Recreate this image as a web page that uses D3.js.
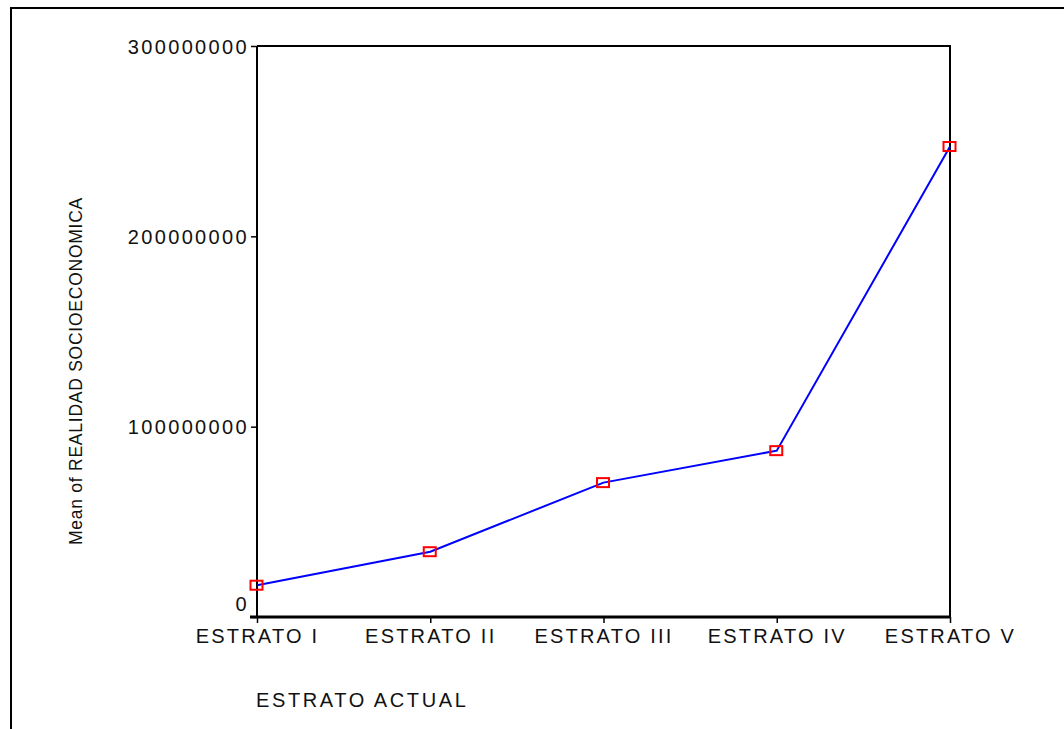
<!DOCTYPE html>
<html><head><meta charset="utf-8">
<script src="https://cdn.jsdelivr.net/npm/d3@7"></script>
<style>
html,body{margin:0;padding:0;background:#fff;}
svg{display:block;}
text{font-family:"Liberation Sans",Arial,sans-serif;fill:#111;}
</style></head>
<body>
<script>
const categories = ["ESTRATO I","ESTRATO II","ESTRATO III","ESTRATO IV","ESTRATO V"];
const meanValues = [16700000, 34300000, 70600000, 87400000, 247200000];
const yTicks = [0, 100000000, 200000000, 300000000];
const xTitle = "ESTRATO ACTUAL";
const yTitle = "Mean of REALIDAD SOCIOECONOMICA";

(function(){
const W = 1064, H = 729;
const pL = 257, pR = 950, pT = 46, pB = 617;

const svg = d3.select("body").append("svg").attr("width", W).attr("height", H);

// outer border (left and top visible)
svg.append("path").attr("d", `M11,${H} L11,8 L${W},8`)
  .attr("fill","none").attr("stroke","#000").attr("stroke-width",2);

const x = d3.scalePoint().domain(categories).range([pL, pR]);
const y = d3.scaleLinear().domain([0, 300000000]).range([pB, pT]);

// frame top and right
svg.append("path").attr("d", `M${pL},${pT} L${pR},${pT} L${pR},${pB}`)
  .attr("fill","none").attr("stroke","#000").attr("stroke-width",2);

// y axis
const yAxis = d3.axisLeft(y).tickValues(yTicks).tickSize(6).tickFormat(d3.format("d"));
const gy = svg.append("g").attr("transform", `translate(${pL},0)`).call(yAxis);
gy.select(".domain").attr("stroke","#000").attr("stroke-width",2).attr("d", `M0,${pB}V${pT}`);
gy.selectAll(".tick line").attr("stroke","#000").attr("stroke-width",1.5);
gy.selectAll(".tick text")
  .attr("x", -8).attr("dy", d => d === 0 ? "-0.35em" : "0.35em")
  .style("font-size","20px").style("letter-spacing","2.35px")
  .attr("fill","#111").attr("font-family",null);

// x axis
const xAxis = d3.axisBottom(x).tickSize(6).tickPadding(6);
const gx = svg.append("g").attr("transform", `translate(0,${pB})`).call(xAxis);
gx.select(".domain").attr("stroke","#000").attr("stroke-width",3).attr("d", `M${pL-7},0H${pR+1}`);
gx.selectAll(".tick line").attr("stroke","#000").attr("stroke-width",1.5);
gx.selectAll(".tick text")
  .attr("dy","0.71em")
  .style("font-size","20px").style("letter-spacing","2.2px")
  .attr("fill","#111").attr("font-family",null);

// line
const line = d3.line().x((d,i) => x(categories[i])).y(d => y(d));
svg.append("path").datum(meanValues).attr("d", line)
  .attr("fill","none").attr("stroke","#0000ff").attr("stroke-width",2);

// markers
svg.selectAll("rect.m").data(meanValues).enter().append("rect")
  .attr("class","m")
  .attr("x", (d,i) => x(categories[i]) - 6.5)
  .attr("y", d => y(d) - 4.5)
  .attr("width", 12).attr("height", 9)
  .attr("fill","none").attr("stroke","#ff0000").attr("stroke-width",2);

// titles
svg.append("text").attr("x", 256).attr("y", 707)
  .style("font-size","20px").style("letter-spacing","2.6px").text(xTitle);
svg.append("text").attr("transform", `translate(82,371) rotate(-90)`)
  .attr("text-anchor","middle")
  .style("font-size","17.5px").style("letter-spacing","0.75px").text(yTitle);
})();
</script>
</body></html>
